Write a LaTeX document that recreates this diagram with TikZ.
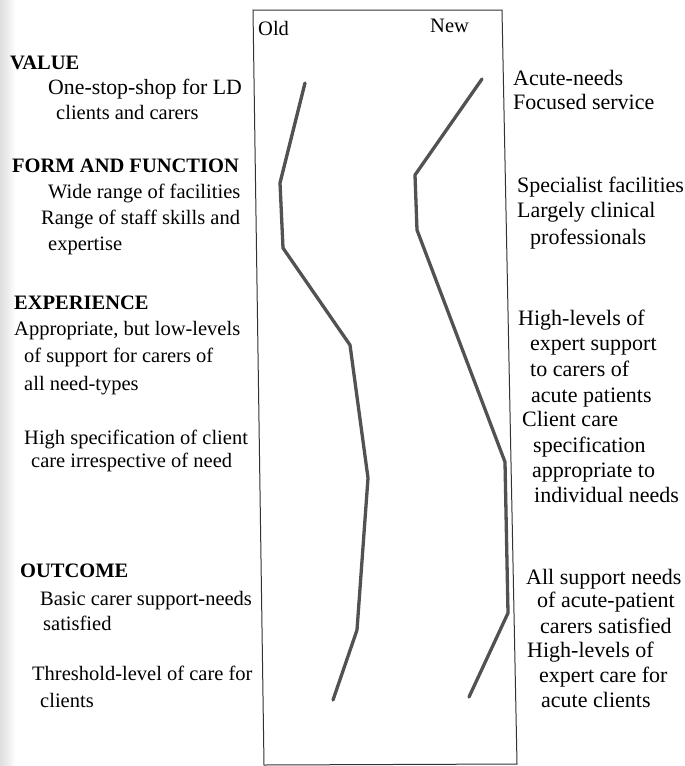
\documentclass[tikz,border=0pt]{standalone}
\usepackage{fontspec}
\setmainfont{Liberation Serif}
\begin{document}
\begin{tikzpicture}[x=1pt,y=-1pt,
  txt/.style={anchor=base west,inner sep=0pt,font=\fontsize{20.5}{24}\selectfont},
  rtxt/.style={anchor=base west,inner sep=0pt,font=\fontsize{22}{26}\selectfont},
  head/.style={txt,font=\fontsize{20.5}{24}\selectfont\bfseries},
  trend/.style={draw=black!68,line width=3.3pt,line join=round,line cap=round},
  frame/.style={draw=black!80,line width=1pt}]
\useasboundingbox (0,0) rectangle (685,766);
\shade[left color=black!13,right color=white] (0,0) rectangle (16,766);
% frame
\coordinate (tl) at (253,10);
\coordinate (tr) at (502,10);
\coordinate (br) at (517,764);
\coordinate (bl) at (264,765);
\draw[frame] (tl) -- (tr) -- (br) -- (bl) -- cycle;
\node[txt] (old) at (258,35) {Old};
\node[txt] (new) at (430,32) {New};
% old line
\coordinate (o1) at (305,83);
\coordinate (o2) at (280,183);
\coordinate (o3) at (283,248);
\coordinate (o4) at (350,345);
\coordinate (o5) at (368,478);
\coordinate (o6) at (357,630);
\coordinate (o7) at (333,700);
\draw[trend] (o1) -- (o2) -- (o3) -- (o4) -- (o5) -- (o6) -- (o7);
% new line
\coordinate (n1) at (482,79);
\coordinate (n2) at (415,175);
\coordinate (n3) at (417,230);
\coordinate (n4) at (505,462);
\coordinate (n5) at (508,613);
\coordinate (n6) at (469,697);
\draw[trend] (n1) -- (n2) -- (n3) -- (n4) -- (n5) -- (n6);
% left texts
\node[head] (value) at (10,69) {VALUE};
\node[txt,font=\fontsize{21.8}{24}\selectfont] (v1) at (48,94) {One-stop-shop for LD};
\node[txt] (v2) at (56,119) {clients and carers};
\node[head] (form) at (12,172) {FORM AND FUNCTION};
\node[txt] (f1) at (48,198) {Wide range of facilities};
\node[txt] (f2) at (41,224) {Range of staff skills and};
\node[txt] (f3) at (48,250) {expertise};
\node[head] (exp) at (14,309) {EXPERIENCE};
\node[txt] (e1) at (14,335) {Appropriate, but low-levels};
\node[txt] (e2) at (24,362) {of support for carers of};
\node[txt] (e3) at (24,390) {all need-types};
\node[txt] (e4) at (24,444) {High specification of client};
\node[txt] (e5) at (31,467) {care irrespective of need};
\node[head] (out) at (20,577) {OUTCOME};
\node[txt] (u1) at (40,605) {Basic carer support-needs};
\node[txt] (u2) at (43,630) {satisfied};
\node[txt] (u3) at (32,680) {Threshold-level of care for};
\node[txt] (u4) at (40,707) {clients};
% right texts
\node[rtxt] (r1) at (513,85) {Acute-needs};
\node[rtxt] (r2) at (513,109) {Focused service};
\node[rtxt] (r3) at (517,192) {Specialist facilities};
\node[rtxt] (r4) at (517,217) {Largely clinical};
\node[rtxt] (r5) at (530,244) {professionals};
\node[rtxt] (r6) at (518,325) {High-levels of};
\node[rtxt] (r7) at (530,350) {expert support};
\node[rtxt] (r8) at (530,376) {to carers of};
\node[rtxt] (r9) at (531,402) {acute patients};
\node[rtxt] (r10) at (522,426) {Client care};
\node[rtxt] (r11) at (533,452) {specification};
\node[rtxt] (r12) at (532,477) {appropriate to};
\node[rtxt] (r13) at (534,502) {individual needs};
\node[rtxt] (r14) at (526,584) {All support needs};
\node[rtxt] (r15) at (537,607) {of acute-patient};
\node[rtxt] (r16) at (540,633) {carers satisfied};
\node[rtxt] (r17) at (527,657) {High-levels of};
\node[rtxt] (r18) at (539,682) {expert care for};
\node[rtxt] (r19) at (541,707) {acute clients};
\end{tikzpicture}
\end{document}
